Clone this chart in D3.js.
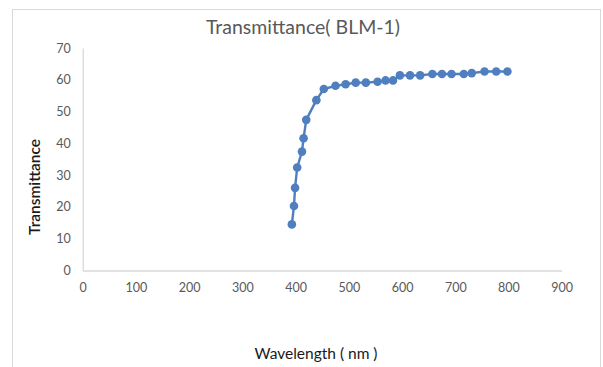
<!DOCTYPE html>
<html>
<head>
<meta charset="utf-8">
<script src="https://cdn.jsdelivr.net/npm/d3@7"></script>
<style>
  html, body { margin: 0; padding: 0; background: #fff; }
  svg { display: block; }
  text { font-family: Lato, "Liberation Sans", sans-serif; }
</style>
</head>
<body>
<svg id="chart" width="603" height="367"></svg>
<script>
// Transmittance spectrum of BLM-1
const wavelength = [393, 397, 399, 403, 412, 415, 420, 439, 453, 475, 494, 513, 532, 554,
                    569, 583, 596, 615, 634, 657, 675, 693, 716, 731, 755, 777, 798];
const transmittance = [14.5, 20.3, 26.0, 32.4, 37.4, 41.6, 47.4, 53.6, 57.1, 58.1, 58.6, 59.1, 59.1, 59.4,
                       59.8, 59.8, 61.4, 61.4, 61.4, 61.8, 61.8, 61.8, 61.8, 62.1, 62.6, 62.6, 62.6];
const xTicks = [0, 100, 200, 300, 400, 500, 600, 700, 800, 900];
const yTicks = [0, 10, 20, 30, 40, 50, 60, 70];

const points = wavelength.map((w, i) => ({ x: w, y: transmittance[i] }));

const svg = d3.select("#chart");
const W = 603, H = 367;
const plot = { left: 82.7, right: 561.7, top: 48, bottom: 270.5 };

svg.append("rect").attr("width", W).attr("height", H).attr("fill", "#fff");
// chart area border
svg.append("rect")
  .attr("x", 12.5).attr("y", 9.5).attr("width", 588).attr("height", 380)
  .attr("fill", "none").attr("stroke", "#d9d9d9").attr("stroke-width", 1);

const x = d3.scaleLinear().domain([0, 900]).range([plot.left, plot.right]);
const y = d3.scaleLinear().domain([0, 70]).range([plot.bottom, plot.top]);

// x axis
const xAxis = svg.append("g")
  .attr("transform", `translate(0,${plot.bottom})`)
  .call(d3.axisBottom(x).tickValues(xTicks).tickSize(0).tickPadding(13));
xAxis.select(".domain").attr("stroke", "#d9d9d9").attr("stroke-width", 1.3);
xAxis.selectAll("text").attr("fill", "#595959").style("font-size", "12.5px")
  .style("font-family", "Lato, sans-serif");

// y axis
const yAxis = svg.append("g")
  .attr("transform", `translate(${plot.left},0)`)
  .call(d3.axisLeft(y).tickValues(yTicks).tickSize(0).tickPadding(12));
yAxis.select(".domain").attr("stroke", "#d9d9d9").attr("stroke-width", 1.3);
yAxis.selectAll("text").attr("fill", "#595959").style("font-size", "12.5px")
  .style("font-family", "Lato, sans-serif");

// series line
const line = d3.line().x(d => x(d.x)).y(d => y(d.y));
svg.append("path")
  .datum(points)
  .attr("fill", "none")
  .attr("stroke", "#4f7fbe")
  .attr("stroke-width", 2.4)
  .attr("stroke-linejoin", "round")
  .attr("d", line);

// series markers
svg.append("g").selectAll("circle")
  .data(points)
  .join("circle")
  .attr("cx", d => x(d.x))
  .attr("cy", d => y(d.y))
  .attr("r", 4.3)
  .attr("fill", "#4f7fbe");

// title
svg.append("text")
  .attr("x", 303).attr("y", 34)
  .attr("text-anchor", "middle")
  .attr("fill", "#595959")
  .style("font-size", "19.5px")
  .text("Transmittance( BLM-1)");

// axis titles
svg.append("text")
  .attr("transform", "translate(40,187) rotate(-90)")
  .attr("text-anchor", "middle")
  .attr("fill", "#1a1a1a")
  .style("font-size", "15.5px")
  .style("font-weight", "600")
  .text("Transmittance");

svg.append("text")
  .attr("x", 316).attr("y", 359)
  .attr("text-anchor", "middle")
  .attr("fill", "#1a1a1a")
  .style("font-size", "15.5px")
  .text("Wavelength ( nm )");
</script>
</body>
</html>
